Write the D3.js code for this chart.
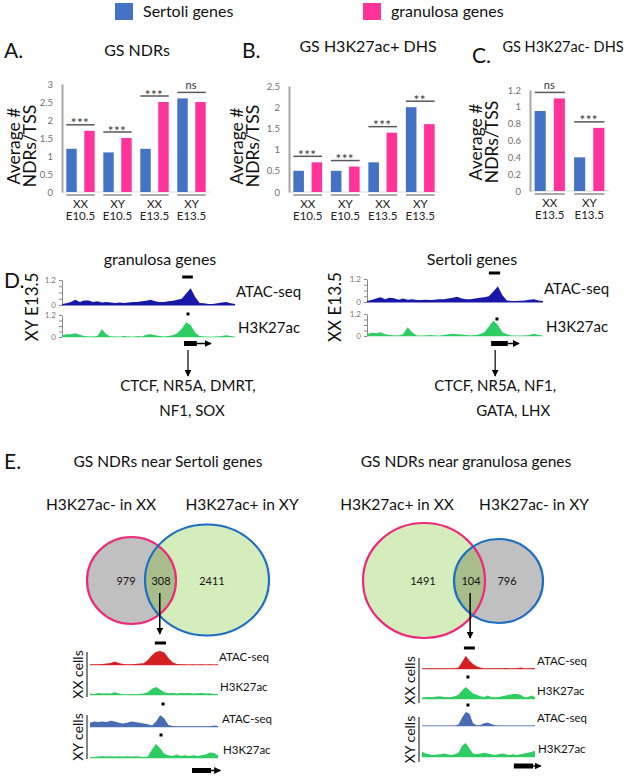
<!DOCTYPE html>
<html>
<head>
<meta charset="utf-8">
<script src="https://cdn.jsdelivr.net/npm/d3@7"></script>
<style>
  body { margin: 0; background: #fff; }
  svg { font-family: Lato, "Open Sans", sans-serif; }
</style>
</head>
<body>
<svg id="chart" width="627" height="778"></svg>
<script>
// ---- data ----
const seriesNames = ['Sertoli genes', 'granulosa genes'];
const seriesColors = ['#4472c4', '#ff3399'];

// panel A: GS NDRs
const aCats = [['XX', 'E10.5'], ['XY', 'E10.5'], ['XX', 'E13.5'], ['XY', 'E13.5']];
const aSertoli = [1.2, 1.1, 1.2, 2.6];
const aGranulosa = [1.7, 1.5, 2.5, 2.5];
const aSig = ['***', '***', '***', 'ns'];
const aTicks = [0, 0.5, 1, 1.5, 2, 2.5, 3];

// panel B: GS H3K27ac+ DHS
const bCats = [['XX', 'E10.5'], ['XY', 'E10.5'], ['XX', 'E13.5'], ['XY', 'E13.5']];
const bSertoli = [0.5, 0.5, 0.7, 2.0];
const bGranulosa = [0.7, 0.6, 1.4, 1.6];
const bSig = ['***', '***', '***', '**'];
const bTicks = [0, 0.5, 1, 1.5, 2, 2.5];

// panel C: GS H3K27ac- DHS
const cCats = [['XX', 'E13.5'], ['XY', 'E13.5']];
const cSertoli = [0.95, 0.4];
const cGranulosa = [1.1, 0.75];
const cSig = ['ns', '***'];
const cTicks = [0, 0.2, 0.4, 0.6, 0.8, 1, 1.2];

// panel D: browser tracks (signal, 40 bins)
const dTrackTicks = [0, 0.3, 0.6, 0.9, 1.2];
const dGranAtac = [0.05, 0.08, 0.15, 0.25, 0.15, 0.22, 0.22, 0.15, 0.18, 0.12,
  0.15, 0.12, 0.1, 0.12, 0.1, 0.12, 0.14, 0.15, 0.18, 0.2,
  0.25, 0.18, 0.15, 0.15, 0.18, 0.2, 0.25, 0.3, 0.55, 0.8,
  0.4, 0.1, 0.08, 0.05, 0.05, 0.08, 0.12, 0.15, 0.08, 0.05];
const dGranH3k = [0.1, 0.15, 0.15, 0.2, 0.12, 0.05, 0.03, 0.03, 0.05, 0.42,
  0.15, 0.03, 0.03, 0.02, 0.05, 0.03, 0.02, 0.05, 0.03, 0.12,
  0.15, 0.1, 0.05, 0.03, 0.05, 0.1, 0.2, 0.45, 0.8, 0.65,
  0.25, 0.05, 0.03, 0.02, 0.02, 0.03, 0.05, 0.1, 0.05, 0.02];
const dSertAtac = [0.05, 0.1, 0.18, 0.25, 0.15, 0.22, 0.2, 0.12, 0.18, 0.12,
  0.15, 0.1, 0.1, 0.12, 0.1, 0.12, 0.15, 0.15, 0.18, 0.22,
  0.28, 0.18, 0.15, 0.15, 0.18, 0.22, 0.25, 0.3, 0.55, 0.82,
  0.35, 0.08, 0.05, 0.05, 0.06, 0.08, 0.12, 0.15, 0.08, 0.05];
const dSertH3k = [0.1, 0.18, 0.15, 0.2, 0.1, 0.05, 0.03, 0.03, 0.1, 0.48,
  0.2, 0.03, 0.02, 0.03, 0.05, 0.03, 0.02, 0.05, 0.1, 0.12,
  0.1, 0.08, 0.05, 0.03, 0.05, 0.1, 0.2, 0.5, 0.85, 0.6,
  0.2, 0.1, 0.03, 0.02, 0.02, 0.03, 0.05, 0.12, 0.05, 0.02];
const dGranTfs = ['CTCF, NR5A, DMRT,', 'NF1, SOX'];
const dSertTfs = ['CTCF, NR5A, NF1,', 'GATA, LHX'];

// panel E: venn counts
const eSertCounts = [979, 308, 2411];
const eGranCounts = [1491, 104, 796];

// panel E: browser tracks (signal, 32 bins)
const eSertXXAtac = [0.05, 0.05, 0.05, 0.08, 0.1, 0.15, 0.25, 0.15, 0.08, 0.05,
  0.05, 0.08, 0.1, 0.12, 0.35, 0.7, 0.95, 1.0, 0.9, 0.5,
  0.2, 0.08, 0.05, 0.05, 0.04, 0.05, 0.04, 0.05, 0.04, 0.05, 0.04, 0.05];
const eSertXXH3k = [0.1, 0.08, 0.15, 0.1, 0.12, 0.1, 0.2, 0.1, 0.05, 0.05,
  0.08, 0.05, 0.08, 0.1, 0.2, 0.45, 0.57, 0.4, 0.2, 0.12,
  0.15, 0.1, 0.15, 0.12, 0.15, 0.1, 0.12, 0.15, 0.1, 0.12, 0.08, 0.05];
const eSertXYAtac = [0.3, 0.4, 0.35, 0.4, 0.35, 0.45, 0.4, 0.3, 0.25, 0.3,
  0.4, 0.35, 0.3, 0.25, 0.2, 0.1, 0.4, 0.85, 0.6, 0.15,
  0.08, 0.06, 0.05, 0.05, 0.06, 0.05, 0.05, 0.06, 0.05, 0.06, 0.1, 0.08];
const eSertXYH3k = [0.05, 0.08, 0.1, 0.12, 0.1, 0.12, 0.1, 0.12, 0.1, 0.12,
  0.1, 0.12, 0.1, 0.08, 0.1, 0.6, 1.0, 0.7, 0.3, 0.2,
  0.15, 0.25, 0.15, 0.2, 0.15, 0.2, 0.15, 0.2, 0.25, 0.4, 0.35, 0.2];
const eGranXXAtac = [0.05, 0.05, 0.06, 0.05, 0.05, 0.06, 0.05, 0.06, 0.05, 0.06,
  0.1, 0.5, 0.95, 0.6, 0.35, 0.2, 0.1, 0.06, 0.05, 0.06,
  0.05, 0.06, 0.05, 0.08, 0.06, 0.05, 0.06, 0.1, 0.06, 0.05, 0.06, 0.08];
const eGranXXH3k = [0.1, 0.12, 0.15, 0.12, 0.18, 0.2, 0.15, 0.12, 0.15, 0.2,
  0.3, 0.6, 0.85, 0.65, 0.4, 0.3, 0.2, 0.15, 0.25, 0.15,
  0.12, 0.15, 0.2, 0.25, 0.3, 0.35, 0.35, 0.3, 0.15, 0.12, 0.25, 0.15];
const eGranXYAtac = [0.03, 0.03, 0.03, 0.03, 0.03, 0.03, 0.04, 0.03, 0.03, 0.04,
  0.1, 0.6, 1.0, 0.9, 0.2, 0.05, 0.08, 0.2, 0.25, 0.15,
  0.05, 0.03, 0.03, 0.04, 0.03, 0.03, 0.04, 0.03, 0.03, 0.04, 0.03, 0.06];
const eGranXYH3k = [0.4, 0.25, 0.2, 0.15, 0.18, 0.2, 0.25, 0.2, 0.15, 0.2,
  0.3, 0.8, 1.0, 0.6, 0.25, 0.2, 0.25, 0.3, 0.25, 0.2,
  0.15, 0.2, 0.25, 0.2, 0.15, 0.2, 0.15, 0.2, 0.25, 0.3, 0.35, 0.45];

// ---- colours ----
const atacDark = '#1717a8';
const atacRed = '#d42020';
const atacBlue = '#4a6cb3';
const h3kGreen = '#2ecc63';
const vennGray = '#c0c0c0';
const vennGreen = '#d5edbd';
const vennOverlap = '#a9bd8c';
const vennPink = '#ec2a7c';
const vennBlue = '#1c6fc2';

const svg = d3.select('#chart');

const defs = svg.append('defs');
defs.append('marker')
  .attr('id', 'arrow')
  .attr('viewBox', '0 0 10 10')
  .attr('refX', 9).attr('refY', 5)
  .attr('markerWidth', 7).attr('markerHeight', 7)
  .attr('markerUnits', 'userSpaceOnUse')
  .attr('orient', 'auto')
  .append('path')
  .attr('d', 'M0,0 L10,5 L0,10 z')
  .attr('fill', '#000');

function text(x, y, str, size, opts = {}) {
  return svg.append('text')
    .attr('x', x).attr('y', y)
    .attr('text-anchor', opts.anchor || 'middle')
    .attr('fill', opts.fill || '#111')
    .style('font-size', size + 'px')
    .text(str);
}

function rotText(cx, cy, str, size) {
  return svg.append('text')
    .attr('transform', `translate(${cx},${cy}) rotate(-90)`)
    .attr('text-anchor', 'middle')
    .attr('dominant-baseline', 'central')
    .attr('fill', '#111')
    .style('font-size', size + 'px')
    .text(str);
}

// ---- legend ----
const legendX = [115, 363];
seriesNames.forEach((name, i) => {
  svg.append('rect')
    .attr('x', legendX[i]).attr('y', 3)
    .attr('width', 18).attr('height', 17)
    .attr('fill', seriesColors[i]);
  text(legendX[i] + 28, 17, name, 16, { anchor: 'start' });
});

// ---- bar panels ----
function barPanel(p) {
  const rows = p.cats.map((c, i) => ({ cat: c, vals: [p.sertoli[i], p.granulosa[i]], sig: p.sig[i] }));
  const g = svg.append('g');

  const x0 = d3.scaleBand().domain(d3.range(rows.length)).range(p.xRange);
  const x1 = d3.scaleBand().domain([0, 1]).range([0, x0.bandwidth()])
    .paddingInner(0.42).paddingOuter(0.24);
  const y = d3.scaleLinear().domain([0, p.yMax]).range(p.yRange);

  // baseline
  g.append('line')
    .attr('x1', p.xRange[0]).attr('x2', p.xRange[1])
    .attr('y1', y(0)).attr('y2', y(0))
    .attr('stroke', '#d9d9d9').attr('stroke-width', 1);

  const axis = d3.axisLeft(y).tickValues(p.ticks).tickSize(0).tickPadding(9)
    .tickFormat(d3.format('~g'));
  const ax = g.append('g')
    .attr('transform', `translate(${p.xRange[0]},0)`)
    .call(axis);
  ax.attr('font-family', null).attr('font-size', null);
  ax.select('.domain').attr('stroke', '#a6a6a6').attr('stroke-width', 2);
  ax.selectAll('text').attr('fill', '#6f6f6f').style('font-size', '9.5px');

  const grp = g.selectAll('.grp').data(rows).enter().append('g')
    .attr('transform', (d, i) => `translate(${x0(i)},0)`);

  grp.selectAll('rect').data(d => d.vals).enter().append('rect')
    .attr('x', (d, j) => x1(j))
    .attr('y', d => y(d))
    .attr('width', x1.bandwidth())
    .attr('height', d => y(0) - y(d))
    .attr('fill', (d, j) => seriesColors[j]);

  // significance brackets
  grp.append('line')
    .attr('x1', x1(0)).attr('x2', x1(1) + x1.bandwidth())
    .attr('y1', d => y(d3.max(d.vals)) - 6).attr('y2', d => y(d3.max(d.vals)) - 6)
    .attr('stroke', '#595959').attr('stroke-width', 1.5);
  grp.append('text')
    .attr('x', x0.bandwidth() / 2 - 0.5)
    .attr('y', d => y(d3.max(d.vals)) - 6 + (d.sig === 'ns' ? -3 : 3.5))
    .attr('text-anchor', 'middle')
    .attr('fill', '#333')
    .style('font-size', d => d.sig === 'ns' ? '11px' : '13.5px')
    .style('letter-spacing', d => d.sig === 'ns' ? null : '0.5px')
    .text(d => d.sig);

  // category underline + labels
  grp.append('line')
    .attr('x1', x1(0)).attr('x2', x1(1) + x1.bandwidth())
    .attr('y1', y(0) + 3).attr('y2', y(0) + 3)
    .attr('stroke', '#555').attr('stroke-width', 1);
  grp.append('text')
    .attr('x', x0.bandwidth() / 2).attr('y', y(0) + 16)
    .attr('text-anchor', 'middle').attr('fill', '#222')
    .style('font-size', '11.5px')
    .text(d => d.cat[0]);
  grp.append('text')
    .attr('x', x0.bandwidth() / 2).attr('y', y(0) + 28)
    .attr('text-anchor', 'middle').attr('fill', '#222')
    .style('font-size', '11.5px')
    .text(d => d.cat[1]);

  text(p.letterX, p.letterY, p.letter, 21, { anchor: 'start' });
  text(p.titleX, p.titleY, p.title, p.titleSize || 16);
  rotText(p.ylabX, p.ylabY, 'Average #', 17.5);
  rotText(p.ylabX + 16, p.ylabY, 'NDRs/TSS', 17.5);
}

barPanel({
  cats: aCats, sertoli: aSertoli, granulosa: aGranulosa, sig: aSig, ticks: aTicks,
  yMax: 3, xRange: [62, 210], yRange: [192, 84],
  letter: 'A.', letterX: 4, letterY: 58, title: 'GS NDRs', titleX: 137, titleY: 56,
  ylabX: 13, ylabY: 146
});
barPanel({
  cats: bCats, sertoli: bSertoli, granulosa: bGranulosa, sig: bSig, ticks: bTicks,
  yMax: 2.5, xRange: [289, 439], yRange: [192, 86],
  letter: 'B.', letterX: 242, letterY: 58, title: 'GS H3K27ac+ DHS', titleX: 368, titleY: 52,
  ylabX: 236, ylabY: 146
});
barPanel({
  cats: cCats, sertoli: cSertoli, granulosa: cGranulosa, sig: cSig, ticks: cTicks,
  yMax: 1.2, xRange: [530, 609], yRange: [191, 90],
  letter: 'C.', letterX: 472, letterY: 63, title: 'GS H3K27ac- DHS', titleX: 563, titleY: 52,
  titleSize: 14.5, ylabX: 475, ylabY: 142
});

// ---- track drawing ----
function drawTrack(values, x, y, color, lineColor) {
  const area = d3.area()
    .x((d, i) => x(i))
    .y0(y(0))
    .y1(d => y(d));
  svg.append('line')
    .attr('x1', x(0)).attr('x2', x(values.length - 1))
    .attr('y1', y(0)).attr('y2', y(0))
    .attr('stroke', lineColor).attr('stroke-width', 1.2);
  svg.append('path')
    .datum(values)
    .attr('d', area)
    .attr('fill', color);
}

function geneModel(x, y, box, end) {
  svg.append('rect')
    .attr('x', x(box[0])).attr('y', y - 2.5)
    .attr('width', x(box[1]) - x(box[0])).attr('height', 5)
    .attr('fill', '#000');
  svg.append('line')
    .attr('x1', x(box[1])).attr('x2', x(end))
    .attr('y1', y).attr('y2', y)
    .attr('stroke', '#000').attr('stroke-width', 1.5)
    .attr('marker-end', 'url(#arrow)');
}

function peakBar(x, y, span) {
  svg.append('line')
    .attr('x1', x(span[0])).attr('x2', x(span[1]))
    .attr('y1', y).attr('y2', y)
    .attr('stroke', '#000').attr('stroke-width', 3);
}

function dot(x, y, pos) {
  svg.append('rect')
    .attr('x', x(pos) - 1.5).attr('y', y - 1.5)
    .attr('width', 3).attr('height', 3)
    .attr('fill', '#000');
}

function trackAxis(x0, y) {
  const ax = svg.append('g')
    .attr('transform', `translate(${x0},0)`)
    .call(d3.axisLeft(y).tickValues(dTrackTicks).tickSize(3).tickSizeOuter(0)
      .tickFormat(d => (d === 0 || d === 1.2) ? d3.format('~g')(d) : ''));
  ax.attr('font-family', null).attr('font-size', null);
  ax.selectAll('line, path').attr('stroke', '#888');
  ax.selectAll('text').attr('fill', '#777').style('font-size', '8px');
}

// ---- panel D ----
function dPanel(p) {
  const x = d3.scaleLinear().domain([0, p.atac.length - 1]).range(p.xRange);
  const yA = d3.scaleLinear().domain([0, 1.2]).range(p.atacY);
  const yH = d3.scaleLinear().domain([0, 1.2]).range(p.h3kY);

  text(p.titleX, 265, p.title, 16);
  trackAxis(p.xRange[0], yA);
  trackAxis(p.xRange[0], yH);
  drawTrack(p.atac, x, yA, atacDark, atacDark);
  drawTrack(p.h3k, x, yH, h3kGreen, '#9fe8b4');
  peakBar(x, p.barY, p.bar);
  dot(x, p.dotY, p.dotPos);
  text(p.xRange[1] + 1, p.atacY[0] - 8, 'ATAC-seq', 15, { anchor: 'start' });
  text(p.xRange[1] + 3, p.h3kY[0] - 4, 'H3K27ac', 15, { anchor: 'start' });
  rotText(p.rotX, 307, p.rotLabel, 17);
  geneModel(x, 343.5, p.gene, p.geneEnd);
  svg.append('line')
    .attr('x1', x(p.arrowPos)).attr('x2', x(p.arrowPos))
    .attr('y1', 350).attr('y2', 376)
    .attr('stroke', '#000').attr('stroke-width', 1.2)
    .attr('marker-end', 'url(#arrow)');
  text(x(p.arrowPos), 391, p.tfs[0], 15);
  text(x(p.arrowPos) + p.tf2Shift, 416, p.tfs[1], 15);
}

text(4, 288, 'D.', 21, { anchor: 'start' });
dPanel({
  atac: dGranAtac, h3k: dGranH3k, xRange: [62, 235], atacY: [305, 280], h3kY: [337, 315],
  title: 'granulosa genes', titleX: 160, bar: [27.1, 29.5], barY: 277, dotPos: 28.4, dotY: 314,
  gene: [27.5, 30.4], geneEnd: 33.6, arrowPos: 28.4, rotX: 31, rotLabel: 'XY E13.5',
  tfs: dGranTfs, tf2Shift: 4
});
dPanel({
  atac: dSertAtac, h3k: dSertH3k, xRange: [367, 543], atacY: [302, 279], h3kY: [336, 314],
  title: 'Sertoli genes', titleX: 472, bar: [27.0, 29.5], barY: 273, dotPos: 28.8, dotY: 319,
  gene: [27.5, 31.2], geneEnd: 33.7, arrowPos: 28.4, rotX: 334, rotLabel: 'XX E13.5',
  tfs: dSertTfs, tf2Shift: 18
});

// ---- panel E ----
text(4, 469, 'E.', 21, { anchor: 'start' });

function vennPanel(p) {
  text(p.titleX, 467, p.title, 15.5);
  text(p.setLabelX[0], 510, p.setLabels[0], 15.5);
  text(p.setLabelX[1], 510, p.setLabels[1], 15.5);

  const [a, b] = p.ellipses;
  const clipId = 'clip' + p.id;
  defs.append('clipPath').attr('id', clipId)
    .append('ellipse')
    .attr('cx', a.cx).attr('cy', a.cy).attr('rx', a.rx).attr('ry', a.ry);

  svg.append('ellipse').attr('cx', a.cx).attr('cy', a.cy).attr('rx', a.rx).attr('ry', a.ry)
    .attr('fill', a.fill);
  svg.append('ellipse').attr('cx', b.cx).attr('cy', b.cy).attr('rx', b.rx).attr('ry', b.ry)
    .attr('fill', b.fill);
  svg.append('ellipse').attr('cx', b.cx).attr('cy', b.cy).attr('rx', b.rx).attr('ry', b.ry)
    .attr('fill', vennOverlap).attr('clip-path', `url(#${clipId})`);
  svg.append('ellipse').attr('cx', a.cx).attr('cy', a.cy).attr('rx', a.rx).attr('ry', a.ry)
    .attr('fill', 'none').attr('stroke', vennPink).attr('stroke-width', 2.2);
  svg.append('ellipse').attr('cx', b.cx).attr('cy', b.cy).attr('rx', b.rx).attr('ry', b.ry)
    .attr('fill', 'none').attr('stroke', vennBlue).attr('stroke-width', 2.2);

  p.counts.forEach((c, i) => {
    svg.append('text')
      .attr('x', p.countX[i]).attr('y', 580)
      .attr('text-anchor', 'middle').attr('dominant-baseline', 'central')
      .attr('fill', '#111').style('font-size', '11px')
      .text(c);
  });

  // tracks
  const x = d3.scaleLinear().domain([0, p.tracks[0].length - 1]).range(p.xRange);
  const colors = [atacRed, h3kGreen, atacBlue, h3kGreen];
  const lineColors = ['#f0a0a0', '#9fe8b4', '#a9b9dc', '#9fe8b4'];
  p.tracks.forEach((vals, i) => {
    const y = d3.scaleLinear().domain([0, 1]).range([p.base[i], p.base[i] - 14]);
    drawTrack(vals, x, y, colors[i], lineColors[i]);
    text(p.xRange[1] + p.labelDx[i], p.base[i] - 4, i % 2 ? 'H3K27ac' : 'ATAC-seq', 11.5, { anchor: 'start' });
  });

  // sample brackets
  p.sideLines.forEach((s, i) => {
    svg.append('line')
      .attr('x1', p.xRange[0] - 3).attr('x2', p.xRange[0] - 3)
      .attr('y1', s[0]).attr('y2', s[1])
      .attr('stroke', '#333').attr('stroke-width', 1.2);
    rotText(p.xRange[0] - 13, (s[0] + s[1]) / 2, i ? 'XY cells' : 'XX cells', 14);
  });

  // arrow from overlap to tracks
  svg.append('line')
    .attr('x1', x(p.arrowPos)).attr('x2', x(p.arrowPos))
    .attr('y1', 593).attr('y2', p.arrowEnd)
    .attr('stroke', '#000').attr('stroke-width', 1.5)
    .attr('marker-end', 'url(#arrow)');
  peakBar(x, p.barY, p.bar);
  p.dots.forEach(d => dot(x, d[1], d[0]));
  geneModel(x, p.geneY, p.gene, p.geneEnd);
}

vennPanel({
  id: 'sert', title: 'GS NDRs near Sertoli genes', titleX: 168,
  setLabels: ['H3K27ac- in XX', 'H3K27ac+ in XY'], setLabelX: [101, 242],
  ellipses: [
    { cx: 131.5, cy: 580.5, rx: 44.5, ry: 43.5, fill: vennGray },
    { cx: 207, cy: 580, rx: 62, ry: 55.5, fill: vennGreen }
  ],
  counts: eSertCounts, countX: [126, 161, 212],
  tracks: [eSertXXAtac, eSertXXH3k, eSertXYAtac, eSertXYH3k],
  xRange: [90, 218], base: [665, 695, 727, 758], labelDx: [1, 2, 4, 5],
  sideLines: [[652, 697], [715, 759]],
  arrowPos: 16.9, arrowEnd: 634, bar: [15.7, 18.4], barY: 643,
  dots: [[17.7, 704], [17.2, 735]], gene: [24.7, 29.3], geneY: 770.5, geneEnd: 31.6
});

vennPanel({
  id: 'gran', title: 'GS NDRs near granulosa genes', titleX: 466,
  setLabels: ['H3K27ac+ in XX', 'H3K27ac- in XY'], setLabelX: [397, 534],
  ellipses: [
    { cx: 424, cy: 580.5, rx: 61, ry: 57.5, fill: vennGreen },
    { cx: 498.5, cy: 581, rx: 44.5, ry: 42, fill: vennGray }
  ],
  counts: eGranCounts, countX: [423, 471, 507],
  tracks: [eGranXXAtac, eGranXXH3k, eGranXYAtac, eGranXYH3k],
  xRange: [422, 535], base: [669, 699, 726, 757], labelDx: [2, 2, 2, 3],
  sideLines: [[658, 703], [717, 762]],
  arrowPos: 13.2, arrowEnd: 638, bar: [11.5, 14.5], barY: 648,
  dots: [[12.6, 677], [12.6, 705]], gene: [25.2, 30.5], geneY: 766, geneEnd: 32.6
});
</script>
</body>
</html>
